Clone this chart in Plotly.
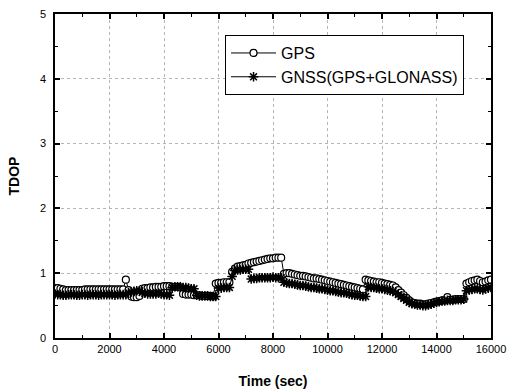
import plotly.graph_objects as go

time_s = list(range(0, 16001, 100))

gps_tdop = [
    0.77, 0.77, 0.76, 0.75, 0.74, 0.74, 0.74, 0.74, 0.74, 0.74,
    0.74, 0.75, 0.75, 0.75, 0.75, 0.75, 0.75, 0.75, 0.75, 0.75,
    0.75, 0.75, 0.75, 0.75, 0.75, 0.75, 0.90, 0.74, 0.64, 0.63,
    0.63, 0.65, 0.76, 0.77, 0.77, 0.78, 0.78, 0.79, 0.79, 0.79,
    0.80, 0.80, 0.80, 0.79, 0.79, 0.79, 0.78, 0.68, 0.67, 0.67,
    0.67, 0.66, 0.66, 0.66, 0.65, 0.65, 0.65, 0.65, 0.64, 0.84,
    0.85, 0.85, 0.86, 0.86, 0.86, 1.02, 1.07, 1.10, 1.11, 1.12,
    1.13, 1.15, 1.16, 1.17, 1.18, 1.19, 1.20, 1.21, 1.22, 1.23,
    1.23, 1.24, 1.24, 1.24, 0.99, 1.00, 1.00, 0.99, 0.98, 0.97,
    0.96, 0.96, 0.95, 0.94, 0.93, 0.92, 0.92, 0.91, 0.90, 0.89,
    0.88, 0.87, 0.86, 0.85, 0.84, 0.83, 0.82, 0.81, 0.80, 0.79,
    0.78, 0.77, 0.76, 0.75, 0.90, 0.89, 0.88, 0.87, 0.86, 0.86,
    0.85, 0.84, 0.83, 0.82, 0.81, 0.78, 0.74, 0.70, 0.66, 0.62,
    0.58, 0.55, 0.54, 0.53, 0.53, 0.52, 0.52, 0.53, 0.54, 0.55,
    0.56, 0.57, 0.58, 0.58, 0.63, 0.59, 0.59, 0.60, 0.60, 0.60,
    0.60, 0.84, 0.86, 0.88, 0.89, 0.90, 0.88, 0.86, 0.87, 0.89,
    0.90,
]

gnss_tdop = [
    0.68, 0.67, 0.67, 0.66, 0.66, 0.67, 0.67, 0.67, 0.66, 0.66,
    0.67, 0.67, 0.66, 0.67, 0.67, 0.67, 0.66, 0.67, 0.67, 0.67,
    0.67, 0.67, 0.66, 0.67, 0.67, 0.67, 0.67, 0.70, 0.71, 0.72,
    0.73, 0.73, 0.70, 0.69, 0.68, 0.68, 0.68, 0.68, 0.69, 0.68,
    0.67, 0.67, 0.66, 0.78, 0.79, 0.79, 0.79, 0.78, 0.78, 0.77,
    0.76, 0.76, 0.66, 0.65, 0.65, 0.65, 0.65, 0.64, 0.64, 0.64,
    0.77, 0.77, 0.78, 0.78, 0.78, 0.95, 1.04, 1.05, 1.05, 1.06,
    1.06, 1.06, 0.91, 0.92, 0.92, 0.93, 0.93, 0.93, 0.93, 0.93,
    0.94, 0.93, 0.93, 0.93, 0.86, 0.85, 0.84, 0.84, 0.83, 0.82,
    0.81, 0.81, 0.80, 0.79, 0.78, 0.78, 0.77, 0.76, 0.76, 0.75,
    0.74, 0.73, 0.73, 0.72, 0.71, 0.70, 0.70, 0.69, 0.68, 0.67,
    0.66, 0.66, 0.65, 0.64, 0.64, 0.79, 0.78, 0.78, 0.77, 0.76,
    0.76, 0.75, 0.74, 0.73, 0.72, 0.70, 0.67, 0.64, 0.61, 0.58,
    0.55, 0.53, 0.52, 0.51, 0.51, 0.50, 0.50, 0.51, 0.52, 0.54,
    0.55, 0.56, 0.57, 0.57, 0.58, 0.58, 0.58, 0.59, 0.59, 0.59,
    0.60, 0.73, 0.74, 0.75, 0.76, 0.76, 0.75, 0.74, 0.76, 0.77,
    0.78,
]

x_ticks = list(range(0, 16001, 2000))
x_tick_labels = [str(v) for v in x_ticks]
y_ticks = [0, 1, 2, 3, 4, 5]

FONT = "Liberation Sans, Arial, sans-serif"

fig = go.Figure()
fig.add_trace(go.Scatter(
    x=time_s, y=gps_tdop, mode="lines+markers", name="GPS",
    line=dict(color="black", width=1),
    marker=dict(symbol="circle", size=7, color="white",
                line=dict(color="black", width=1.2)),
))
fig.add_trace(go.Scatter(
    x=time_s, y=gnss_tdop, mode="lines+markers", name="GNSS(GPS+GLONASS)",
    line=dict(color="black", width=1),
    marker=dict(symbol="asterisk-open", size=8, color="black",
                line=dict(color="black", width=1.5)),
))

axis_common = dict(
    showline=True, linecolor="black", linewidth=1.5, mirror="ticks",
    ticks="inside", ticklen=5, tickwidth=1.5, tickcolor="black",
    showgrid=True, gridcolor="#b5b5b5", griddash="dot", gridwidth=1,
    zeroline=False, automargin=False,
    tickfont=dict(family=FONT, size=11, color="black"),
    minor=dict(ticks="inside", ticklen=3, tickwidth=1, tickcolor="black", showgrid=False),
)

fig.update_xaxes(
    range=[0, 16000], tickvals=x_ticks, ticktext=x_tick_labels, minor_dtick=1000,
    title=dict(text="<b>Time (sec)</b>", standoff=22,
               font=dict(family=FONT, size=14, color="black")),
    **axis_common,
)
fig.update_yaxes(
    range=[0, 5], tickvals=y_ticks, minor_dtick=0.5, ticklabelstandoff=5,
    title=dict(text="<b>TDOP</b>", standoff=17,
               font=dict(family=FONT, size=14, color="black")),
    **axis_common,
)

fig.update_layout(
    width=532, height=392,
    margin=dict(l=55, r=41, t=14, b=54),
    paper_bgcolor="white", plot_bgcolor="white",
    showlegend=True,
    legend=dict(
        x=0.39, y=0.935, xanchor="left", yanchor="top",
        bgcolor="white", bordercolor="black", borderwidth=1,
        font=dict(family=FONT, size=16, color="black"),
        tracegroupgap=0, itemwidth=45,
    ),
)

fig.write_html("out.html", config={"displayModeBar": False},
               post_script="document.body.style.margin='0';")
